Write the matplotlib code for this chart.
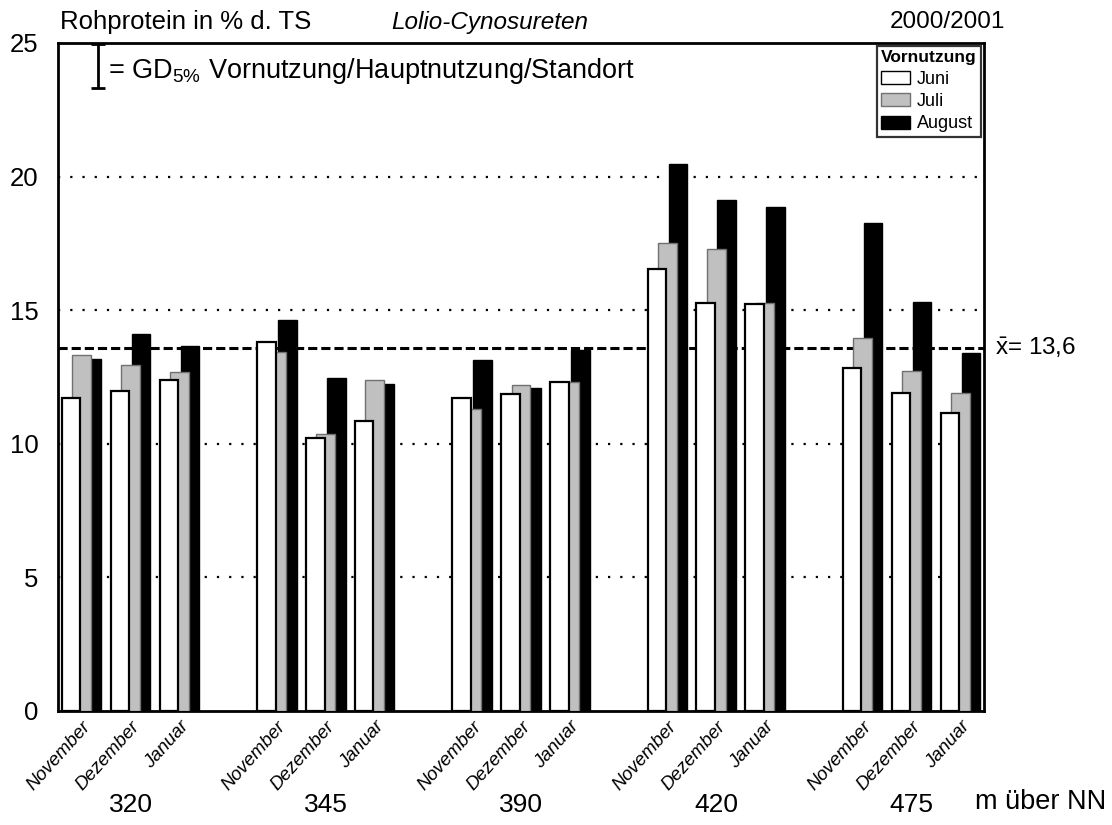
import matplotlib
matplotlib.use("Agg")
import matplotlib.pyplot as plt
from matplotlib.patches import Patch
import numpy as np

plt.rcParams['font.family'] = ['Liberation Sans', 'DejaVu Sans']
plt.rcParams['mathtext.fontset'] = 'custom'
plt.rcParams['mathtext.rm'] = 'Liberation Sans'
plt.rcParams['mathtext.it'] = 'Liberation Sans:italic'

# ---- data ----
sites = ['320', '345', '390', '420', '475']
months = ['November', 'Dezember', 'Januar']
series_names = ['Juni', 'Juli', 'August']
juni = [11.71, 11.99, 12.40, 13.80, 10.21, 10.85, 11.71, 11.85, 12.30,
        16.54, 15.26, 15.22, 12.85, 11.89, 11.14]
juli = [13.32, 12.95, 12.67, 13.45, 10.35, 12.39, 11.29, 12.21, 12.33,
        17.51, 17.28, 15.27, 13.95, 12.72, 11.89]
august = [13.17, 14.12, 13.65, 14.63, 12.47, 12.24, 13.12, 12.07, 13.50,
          20.46, 19.12, 18.85, 18.27, 15.31, 13.41]
mean_value = 13.6
gd5 = 1.65
yticks = [0, 5, 10, 15, 20, 25]

# ---- figure ----
W, H = 1112, 825
fig = plt.figure(figsize=(W / 100, H / 100), dpi=100)
ax = fig.add_axes([58 / W, 1 - 711 / H, (984 - 58) / W, (711 - 43) / H])

slots = np.array([4 * g + m for g in range(len(sites)) for m in range(len(months))], float)
d = 0.215
w = 0.38

colors = ['white', '#c0c0c0', 'black']
edges = ['black', '#707070', 'black']
lws = [1.6, 1.0, 1.0]
values = [juni, juli, august]
zs = [4, 3, 2]
for i in range(3):
    ax.bar(slots + i * d, values[i], width=w, align='edge', color=colors[i],
           edgecolor=edges[i], linewidth=lws[i], zorder=zs[i])

# grid lines
for yv in [5, 10, 15, 20]:
    ax.axhline(yv, color='black', linestyle=(0, (1, 4.5)), linewidth=1.6, zorder=1)
ax.axhline(mean_value, color='black', linestyle=(0, (3, 1.3)), linewidth=2.2, zorder=1.5)

ax.set_xlim(-0.08, 18.89)
ax.set_ylim(0, 25)
ax.set_yticks(yticks)
ax.set_yticklabels([str(v) for v in yticks], fontsize=18.5)
ax.tick_params(axis='y', length=0, pad=14)

ax.set_xticks(slots + (2 * d + w) / 2)
ax.set_xticklabels(months * len(sites), rotation=48, ha='right', va='top',
                   rotation_mode='anchor', fontsize=13.5, style='italic')
ax.tick_params(axis='x', length=0, pad=5)

for sp in ax.spines.values():
    sp.set_linewidth(2)

# site labels
for g, s in enumerate(sites):
    ax.text(4 * g + 1 + (2 * d + w) / 2, -0.14, s, transform=ax.get_xaxis_transform(),
            ha='center', va='center', fontsize=19)
fig.text(1106 / W, 1 - 802 / H, 'm über NN', ha='right', va='center', fontsize=19.5)

# header texts
fig.text(60 / W, 1 - 22 / H, 'Rohprotein in % d. TS', ha='left', va='center', fontsize=18.5)
fig.text(490 / W, 1 - 22 / H, 'Lolio-Cynosureten', ha='center', va='center',
         fontsize=17.5, style='italic')
fig.text(1005 / W, 1 - 22 / H, '2000/2001', ha='right', va='center', fontsize=17.5)

# GD error bar
ax.errorbar([0.74], [25 - gd5 / 2 - 0.05], yerr=[gd5 / 2], color='black', capsize=5,
            elinewidth=2, capthick=2, zorder=5)
ax.text(0.95, 23.95, r'= GD$_{\mathrm{5\%}}$ Vornutzung/Hauptnutzung/Standort',
        ha='left', va='center', fontsize=19.5)

# mean label
ax.text(1.012, mean_value, r'$\bar{\mathrm{x}}$= 13,6', transform=ax.get_yaxis_transform(),
        ha='left', va='center', fontsize=17.5)

# legend
handles = [Patch(facecolor=colors[i], edgecolor=edges[i], linewidth=1.0) for i in range(3)]
leg = ax.legend(handles, series_names, title='Vornutzung', loc='upper right',
                fontsize=13, title_fontsize=12.5, frameon=True, fancybox=False,
                edgecolor='black', borderaxespad=0.15, handlelength=1.6,
                handleheight=0.75, handletextpad=0.4, labelspacing=0.3,
                borderpad=0.25, alignment='left')
leg.get_title().set_fontweight('bold')
leg.get_frame().set_linewidth(1.6)
leg.set_zorder(10)

fig.savefig('out.png', dpi=100)
